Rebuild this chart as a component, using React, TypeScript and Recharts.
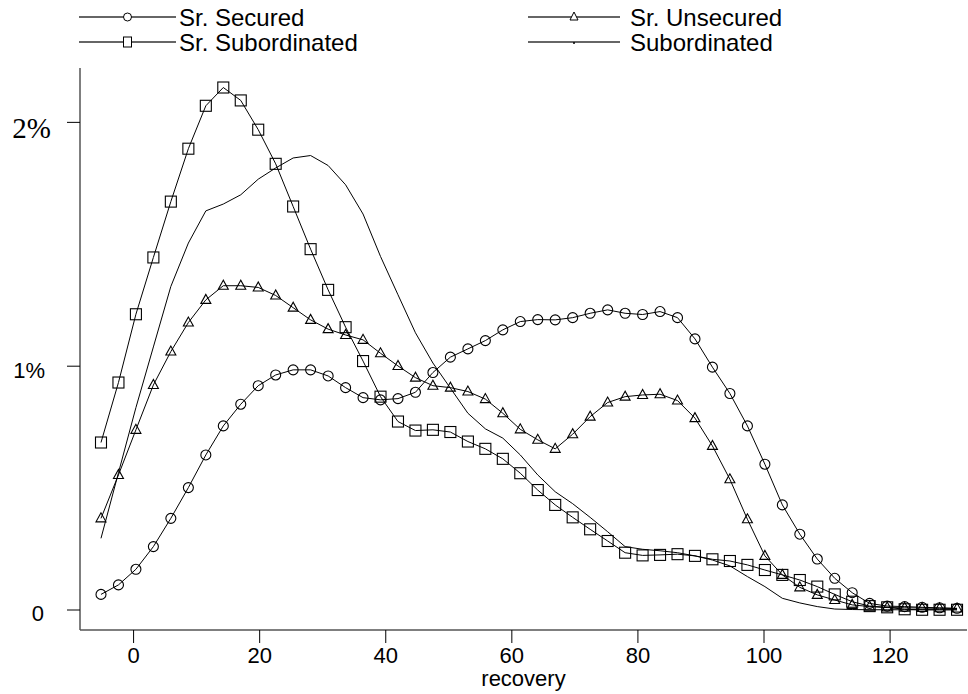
import { Line, LineChart, XAxis, YAxis } from "recharts";

// recovery grid (x) and density values in percent
const RECOVERY = [
  -5.17, -2.4, 0.37, 3.14, 5.91, 8.69, 11.46, 14.23, 17.0, 19.77, 22.54, 25.31, 28.08, 30.86, 33.63, 36.4, 39.17,
  41.94, 44.71, 47.48, 50.25, 53.03, 55.8, 58.57, 61.34, 64.11, 66.88, 69.65, 72.42, 75.2, 77.97, 80.74, 83.51,
  86.28, 89.05, 91.82, 94.59, 97.37, 100.14, 102.91, 105.68, 108.45, 111.22, 113.99, 116.76, 119.54, 122.31, 125.08,
  127.85, 130.62,
];

const SR_SECURED = [
  0.064, 0.103, 0.167, 0.26, 0.376, 0.502, 0.636, 0.755, 0.844, 0.92, 0.964, 0.985, 0.985, 0.96, 0.912, 0.871, 0.862,
  0.867, 0.893, 0.974, 1.037, 1.071, 1.105, 1.149, 1.183, 1.191, 1.19, 1.199, 1.217, 1.231, 1.217, 1.212, 1.224,
  1.199, 1.112, 0.996, 0.888, 0.755, 0.598, 0.431, 0.311, 0.209, 0.13, 0.071, 0.027, 0.016, 0.014, 0.011, 0.009,
  0.007,
];

const SR_UNSECURED = [
  0.376, 0.554, 0.739, 0.923, 1.06, 1.179, 1.272, 1.33, 1.33, 1.323, 1.29, 1.24, 1.19, 1.152, 1.128, 1.108, 1.053,
  1.001, 0.953, 0.92, 0.912, 0.896, 0.865, 0.807, 0.741, 0.698, 0.661, 0.721, 0.793, 0.851, 0.875, 0.882, 0.885,
  0.859, 0.787, 0.673, 0.536, 0.372, 0.222, 0.144, 0.093, 0.062, 0.041, 0.021, 0.014, 0.01, 0.009, 0.008, 0.007,
  0.006,
];

const SR_SUBORDINATED = [
  0.687, 0.933, 1.213, 1.446, 1.675, 1.892, 2.068, 2.143, 2.09, 1.97, 1.83, 1.655, 1.48, 1.313, 1.16, 1.021, 0.875,
  0.773, 0.736, 0.739, 0.73, 0.691, 0.661, 0.62, 0.561, 0.492, 0.431, 0.38, 0.331, 0.283, 0.235, 0.224, 0.226, 0.229,
  0.222, 0.208, 0.201, 0.185, 0.164, 0.144, 0.123, 0.096, 0.064, 0.034, 0.016, 0.011, 0.003, 0.001, 0.001, 0.001,
];

const SUBORDINATED = [
  0.294, 0.563, 0.83, 1.079, 1.327, 1.505, 1.637, 1.665, 1.703, 1.767, 1.813, 1.854, 1.864, 1.823, 1.744, 1.624, 1.45,
  1.293, 1.137, 1.013, 0.91, 0.807, 0.743, 0.705, 0.636, 0.554, 0.485, 0.436, 0.38, 0.321, 0.26, 0.249, 0.243, 0.235,
  0.222, 0.205, 0.181, 0.137, 0.096, 0.048, 0.029, 0.014, 0.004, 0.002, 0.001, 0.001, 0.001, 0.001, 0.001, 0.001,
];

const X_TICKS = [0, 20, 40, 60, 80, 100, 120];
const Y_TICKS = [0, 1, 2];
const Y_TICK_LABELS = ["0", "1%", "2%"];

const SANS = "'Liberation Sans', Arial, sans-serif";
const SERIF = "'Liberation Serif', 'Times New Roman', serif";

const data = RECOVERY.map((x, i) => ({
  x,
  secured: SR_SECURED[i],
  unsecured: SR_UNSECURED[i],
  srsub: SR_SUBORDINATED[i],
  sub: SUBORDINATED[i],
}));

type DotProps = { cx?: number; cy?: number; index?: number };

function CircleDot({ cx = 0, cy = 0, index }: DotProps) {
  return <circle key={`c${index}`} cx={cx} cy={cy} r={5} fill="none" stroke="#000" strokeWidth={1.1} />;
}

function TriangleDot({ cx = 0, cy = 0, index }: DotProps) {
  const pts = `${cx},${cy - 5.5} ${cx - 5},${cy + 3.5} ${cx + 5},${cy + 3.5}`;
  return <polygon key={`t${index}`} points={pts} fill="none" stroke="#000" strokeWidth={1.1} />;
}

function SquareDot({ cx = 0, cy = 0, index }: DotProps) {
  return <rect key={`s${index}`} x={cx - 5.5} y={cy - 5.5} width={11} height={11} fill="none" stroke="#000" strokeWidth={1.1} />;
}

function XTick({ x, y, payload }: { x?: number; y?: number; payload?: { value: number } }) {
  return (
    <text x={x} y={(y ?? 0) + 18} textAnchor="middle" fontFamily={SANS} fontSize={22} fill="#000">
      {payload?.value}
    </text>
  );
}

function YTick({ y, payload }: { y?: number; payload?: { value: number } }) {
  const idx = Y_TICKS.indexOf(payload?.value ?? 0);
  const label = Y_TICK_LABELS[idx];
  const serif = idx === 2;
  const right = idx === 2 ? 51 : idx === 1 ? 45 : 44;
  const dy = idx === 2 ? 15.5 : idx === 1 ? 12 : 11;
  return (
    <text x={right} y={(y ?? 0) + dy} textAnchor="end" fontFamily={serif ? SERIF : SANS} fontSize={serif ? 29 : 22} fill="#000">
      {label}
    </text>
  );
}

function LegendBox() {
  const rows = [
    { name: "Sr. Secured", x1: 79, x2: 176, tx: 179, y: 17, kind: "circle" },
    { name: "Sr. Unsecured", x1: 528, x2: 620, tx: 630, y: 17, kind: "triangle" },
    { name: "Sr. Subordinated", x1: 79, x2: 176, tx: 179, y: 42, kind: "square" },
    { name: "Subordinated", x1: 528, x2: 620, tx: 630, y: 42, kind: "dot" },
  ];
  return (
    <svg width={968} height={60} style={{ position: "absolute", left: 0, top: 0 }}>
      {rows.map((r) => {
        const mx = (r.x1 + r.x2) / 2;
        return (
          <g key={r.name}>
            <line x1={r.x1} x2={r.x2} y1={r.y} y2={r.y} stroke="#333" strokeWidth={1.4} />
            {r.kind === "circle" && <circle cx={mx} cy={r.y} r={4} fill="#fff" stroke="#000" />}
            {r.kind === "triangle" && (
              <polygon points={`${mx},${r.y - 5} ${mx - 4},${r.y + 3} ${mx + 4},${r.y + 3}`} fill="#fff" stroke="#000" />
            )}
            {r.kind === "square" && <rect x={mx - 4} y={r.y - 5} width={8} height={10} fill="#fff" stroke="#000" />}
            {r.kind === "dot" && <circle cx={mx} cy={r.y + 1} r={1} fill="#000" />}
            <text x={r.tx} y={r.y + 8.5} fontFamily={SANS} fontSize={24} fill="#000">
              {r.name}
            </text>
          </g>
        );
      })}
    </svg>
  );
}

export default function App() {
  return (
    <div style={{ position: "absolute", left: 0, top: 0, width: 968, height: 694, background: "#fff" }}>
      <LineChart width={968} height={694} data={data} margin={{ top: 68, right: 1, left: 0, bottom: 0 }}>
        <XAxis
          dataKey="x"
          type="number"
          domain={[-8.5, 132.2]}
          ticks={X_TICKS}
          allowDataOverflow
          height={64}
          tickSize={13}
          tick={<XTick />}
          axisLine={{ stroke: "#555", strokeWidth: 1.5 }}
          tickLine={{ stroke: "#000" }}
          label={{ value: "recovery", position: "insideBottom", offset: 8, fontFamily: SANS, fontSize: 22, fill: "#000" }}
        />
        <YAxis
          type="number"
          domain={[-0.082, 2.223]}
          ticks={Y_TICKS}
          allowDataOverflow
          width={80}
          tickSize={13}
          tick={<YTick />}
          axisLine={{ stroke: "#555", strokeWidth: 1.5 }}
          tickLine={{ stroke: "#000" }}
        />
        <Line dataKey="sub" type="linear" stroke="#000" strokeWidth={1} dot={false} isAnimationActive={false} />
        <Line dataKey="srsub" type="linear" stroke="#000" strokeWidth={1} dot={SquareDot} isAnimationActive={false} />
        <Line dataKey="unsecured" type="linear" stroke="#000" strokeWidth={1} dot={TriangleDot} isAnimationActive={false} />
        <Line dataKey="secured" type="linear" stroke="#000" strokeWidth={1} dot={CircleDot} isAnimationActive={false} />
      </LineChart>
      <LegendBox />
    </div>
  );
}
